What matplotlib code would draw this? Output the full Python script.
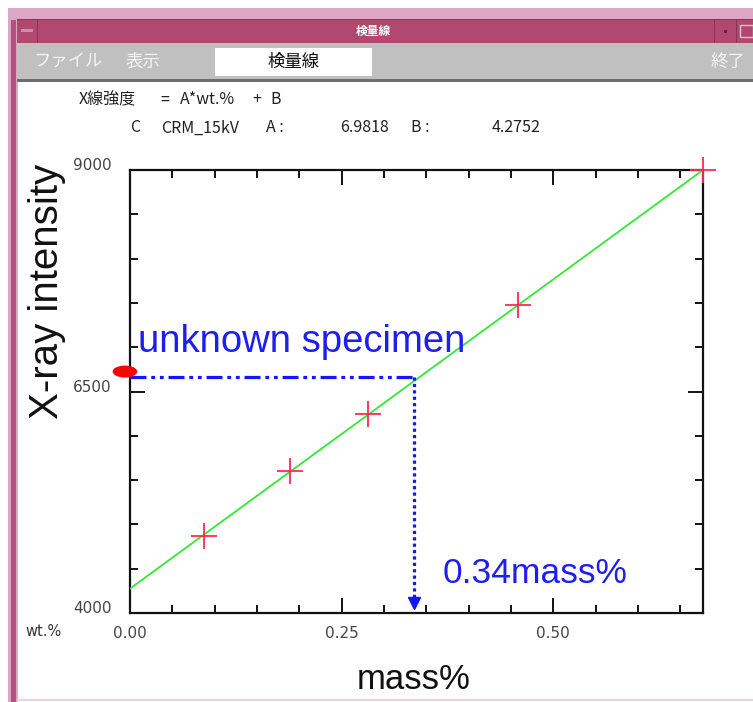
import matplotlib
matplotlib.use("Agg")
import matplotlib.pyplot as plt
from matplotlib.patches import Rectangle, Ellipse
from matplotlib.ticker import MultipleLocator
import matplotlib.transforms as mtransforms

# ---------------- data ----------------
std_mass = [0.088, 0.189, 0.281, 0.458, 0.677]
std_intensity = [4870, 5600, 6245, 7480, 9000]
fit_mass = [0.0, 0.677]
fit_intensity = [4275, 9000]
unknown_mass = 0.335
unknown_intensity = 6665
unknown_marker_intensity = 6725
x_ticks = [0.0, 0.25, 0.50]
x_tick_labels = ["0.00", "0.25", "0.50"]
y_ticks = [4000, 6500, 9000]
y_tick_labels = ["4000", "6500", "9000"]
coef_A = "6.9818"
coef_B = "4.2752"
result_label = "0.34mass%"

W, H = 753, 702
fig = plt.figure(figsize=(W / 100, H / 100), dpi=100)
fig.patch.set_facecolor("white")

CJK = ["Noto Sans CJK JP", "DejaVu Sans"]


def fx(x):
    return x / W


def fy(y):
    return 1 - y / H


def frect(x0, y0, x1, y1, **kw):
    fig.patches.append(Rectangle((fx(x0), fy(y1)), fx(x1) - fx(x0), fy(y0) - fy(y1),
                                 transform=fig.transFigure, figure=fig, **kw))


# ---------------- window chrome ----------------
frect(8, 8, 753, 20, facecolor="#dba7c2", edgecolor="none")
frect(8, 8, 18, 702, facecolor="#dba7c2", edgecolor="none")
frect(11, 20, 16, 702, facecolor="#b4507f", edgecolor="none")
frect(17, 19, 753, 43, facecolor="#b0486f", edgecolor="none")
frect(17, 19, 753, 20, facecolor="#8e3358", edgecolor="none")
frect(37, 19, 38, 43, facecolor="#8e3358", edgecolor="none")
frect(21, 29, 33, 32, facecolor="#d58aab", edgecolor="none")
frect(714, 19, 715, 43, facecolor="#8e3358", edgecolor="none")
frect(736, 19, 737, 43, facecolor="#8e3358", edgecolor="none")
frect(724, 30, 727, 33, facecolor="#6a2040", edgecolor="none")
frect(740, 25, 753, 37, facecolor="none", edgecolor="#e8c0d2", linewidth=1)
fig.text(fx(373), fy(31), "検量線", color="white", fontsize=8.5, family=CJK,
         ha="center", va="center", fontweight="bold")
frect(17, 43, 753, 80, facecolor="#c0c0c0", edgecolor="none")
frect(17, 79, 753, 82, facecolor="#6e6e6e", edgecolor="none")
frect(215, 48, 372, 76, facecolor="white", edgecolor="none")
fig.text(fx(33), fy(62), "ファイル", color="#f4f4f4", fontsize=12.5, family=CJK,
         ha="left", va="center")
fig.text(fx(126), fy(62), "表示", color="#f4f4f4", fontsize=12.5, family=CJK,
         ha="left", va="center")
fig.text(fx(294), fy(62), "検量線", color="#111111", fontsize=12.5, family=CJK,
         ha="center", va="center")
fig.text(fx(745), fy(62), "終了", color="#f4f4f4", fontsize=12.5, family=CJK,
         ha="right", va="center")
frect(17, 699, 753, 701, facecolor="#ecd3df", edgecolor="none")

# equation lines
eq_kw = dict(color="#222222", fontsize=11.5, family=CJK, va="center")
fig.text(fx(79), fy(100), "X線強度", ha="left", **eq_kw)
fig.text(fx(160), fy(100), "=", ha="left", **eq_kw)
fig.text(fx(180), fy(100), "A*wt.%", ha="left", **eq_kw)
fig.text(fx(252), fy(100), "+", ha="left", **eq_kw)
fig.text(fx(270), fy(100), "B", ha="left", **eq_kw)
fig.text(fx(130), fy(128), "C", ha="left", **eq_kw)
fig.text(fx(161), fy(128), "CRM_15kV", ha="left", **eq_kw)
fig.text(fx(266), fy(128), "A :", ha="left", **eq_kw)
fig.text(fx(389), fy(128), coef_A, ha="right", **eq_kw)
fig.text(fx(411), fy(128), "B :", ha="left", **eq_kw)
fig.text(fx(541), fy(128), coef_B, ha="right", **eq_kw)

# ---------------- axes ----------------
ax = fig.add_axes([fx(130), fy(613), fx(703) - fx(130), fy(170) - fy(613)])
ax.set_xlim(0, 0.677)
ax.set_ylim(4000, 9000)

for s in ax.spines.values():
    s.set_linewidth(1.6)
    s.set_color("#111111")

ax.set_xticks(x_ticks)
ax.set_xticklabels(x_tick_labels)
ax.set_yticks(y_ticks)
ax.set_yticklabels(y_tick_labels)
ax.xaxis.set_minor_locator(MultipleLocator(0.05))
ax.yaxis.set_minor_locator(MultipleLocator(500))
ax.tick_params(which="both", direction="in", top=True, right=True, width=1.4,
               color="#111111")
ax.tick_params(which="major", length=11)
ax.tick_params(which="minor", length=5.5)
ax.tick_params(axis="x", which="major", pad=9, labelsize=11, labelcolor="#444444")
ax.tick_params(axis="y", which="major", pad=13, labelsize=11, labelcolor="#444444")
for lab in ax.get_xticklabels() + ax.get_yticklabels():
    lab.set_family("DejaVu Sans")
off = mtransforms.ScaledTranslation(0, 6 / 100, fig.dpi_scale_trans)
for lab in ax.get_yticklabels():
    lab.set_transform(lab.get_transform() + off)

ax.set_xlabel("mass%", fontsize=25, family="Liberation Sans", color="#111111")
ax.set_ylabel("X-ray intensity", fontsize=29, family="Liberation Sans",
              color="#111111")
ax.yaxis.set_label_coords(-0.112, 0.725)
ax.xaxis.set_label_coords(0.495, -0.112)

fig.text(fx(25), fy(632), "wt.%", color="#333333", fontsize=10.5, va="center",
         ha="left", family="DejaVu Sans")

# calibration line
ax.plot(fit_mass, fit_intensity, color="#33e833", linewidth=1.3, zorder=3)
# standards
ax.plot(std_mass, std_intensity, linestyle="none", marker="+", markersize=19,
        markeredgewidth=1.3, color="#ff2a55", zorder=5, clip_on=False)

# unknown specimen guide lines
blue = "#1e1ef0"
ax.plot([0, unknown_mass], [unknown_intensity, unknown_intensity], color="#1515ff",
        linewidth=2.3, dashes=(5, 1.5, 1.2, 1.5, 1.2, 1.5), zorder=4)
ax.plot([unknown_mass, unknown_mass], [unknown_intensity, 4150], color="#1515ff",
        linewidth=2.3, linestyle=(0, (1, 1)), zorder=4)
ax.plot([unknown_mass], [4110], marker="v", markersize=8, color="#1515ff",
        linestyle="none", zorder=4, clip_on=False)
ax.add_patch(Ellipse((-0.006, unknown_marker_intensity), width=0.029, height=135,
                     facecolor="#ff0000", edgecolor="none", clip_on=False, zorder=6))

ax.text(0.0095, 6946, "unknown specimen", color=blue, fontsize=27.5,
        family="Liberation Sans", va="baseline", ha="left", zorder=7)
ax.text(0.369, 4339, result_label, color=blue, fontsize=25.5,
        family="Liberation Sans", va="baseline", ha="left", zorder=7)

fig.savefig("out.png", dpi=100)
